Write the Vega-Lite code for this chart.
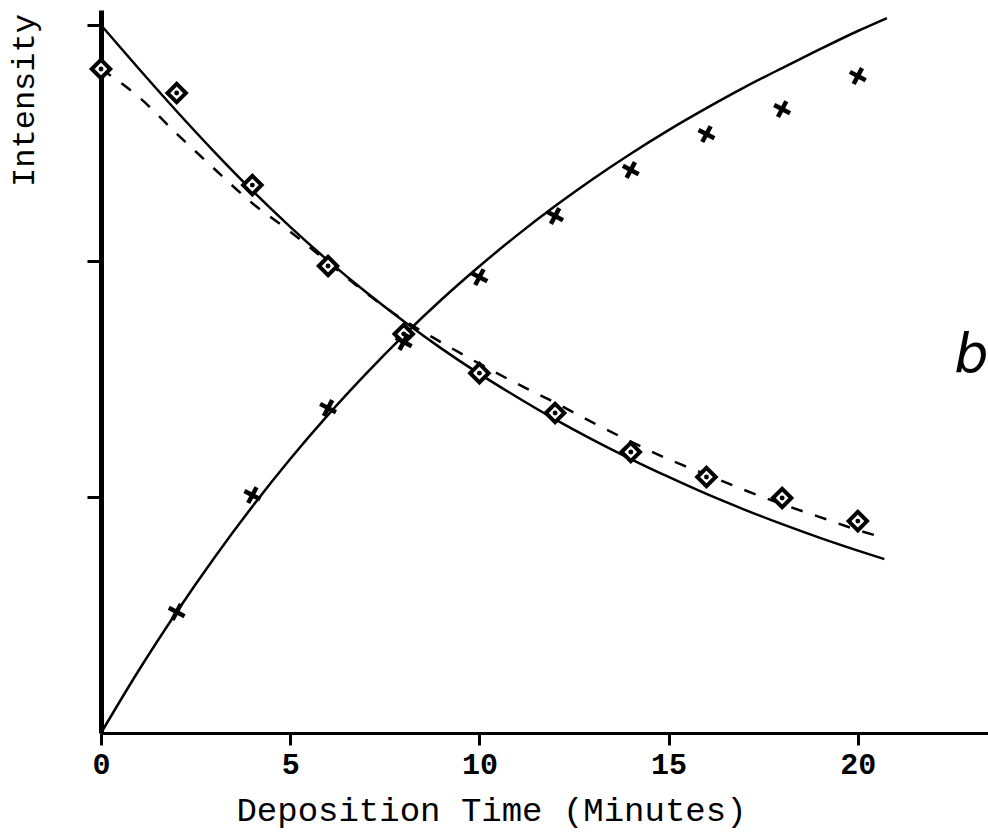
{
  "$schema": "https://vega.github.io/schema/vega-lite/v6.json",
  "width": 887,
  "height": 723,
  "autosize": {"type": "none"},
  "padding": {"left": 101, "top": 10, "right": 0, "bottom": 99},
  "background": "white",
  "config": {"view": {"stroke": null}},
  "datasets": {
    "decay": [
      {"t": 0, "v": 3.0}, {"t": 1, "v": 2.815}, {"t": 2, "v": 2.635}, {"t": 3, "v": 2.462},
      {"t": 4, "v": 2.298}, {"t": 5, "v": 2.145}, {"t": 6, "v": 2.002}, {"t": 7, "v": 1.869},
      {"t": 8, "v": 1.745}, {"t": 9, "v": 1.629}, {"t": 10, "v": 1.522}, {"t": 11, "v": 1.423},
      {"t": 12, "v": 1.329}, {"t": 13, "v": 1.242}, {"t": 14, "v": 1.161}, {"t": 15, "v": 1.085},
      {"t": 16, "v": 1.013}, {"t": 17, "v": 0.947}, {"t": 18, "v": 0.885}, {"t": 19, "v": 0.827},
      {"t": 20, "v": 0.773}, {"t": 20.7, "v": 0.737}
    ],
    "fit": [
      {"t": 0, "v": 2.814}, {"t": 1, "v": 2.695}, {"t": 2, "v": 2.54}, {"t": 3, "v": 2.39},
      {"t": 4, "v": 2.245}, {"t": 5, "v": 2.125}, {"t": 6, "v": 1.995}, {"t": 7, "v": 1.865},
      {"t": 8, "v": 1.75}, {"t": 9, "v": 1.655}, {"t": 10, "v": 1.565}, {"t": 11, "v": 1.48},
      {"t": 12, "v": 1.4}, {"t": 13, "v": 1.315}, {"t": 14, "v": 1.235}, {"t": 15, "v": 1.16},
      {"t": 16, "v": 1.095}, {"t": 17, "v": 1.03}, {"t": 18, "v": 0.97}, {"t": 19, "v": 0.915},
      {"t": 20, "v": 0.86}, {"t": 20.75, "v": 0.825}
    ],
    "growth": [
      {"t": 0, "v": 0}, {"t": 1, "v": 0.266}, {"t": 2, "v": 0.513}, {"t": 3, "v": 0.744},
      {"t": 4, "v": 0.96}, {"t": 5, "v": 1.161}, {"t": 6, "v": 1.348}, {"t": 7, "v": 1.522},
      {"t": 8, "v": 1.685}, {"t": 9, "v": 1.837}, {"t": 10, "v": 1.978}, {"t": 11, "v": 2.11},
      {"t": 12, "v": 2.233}, {"t": 13, "v": 2.348}, {"t": 14, "v": 2.455}, {"t": 15, "v": 2.555},
      {"t": 16, "v": 2.648}, {"t": 17, "v": 2.736}, {"t": 18, "v": 2.818}, {"t": 19, "v": 2.898},
      {"t": 20, "v": 2.975}, {"t": 20.77, "v": 3.03}
    ],
    "diamonds": [
      {"t": 0, "v": 2.814}, {"t": 2, "v": 2.712}, {"t": 4, "v": 2.322}, {"t": 6, "v": 1.979},
      {"t": 8, "v": 1.691}, {"t": 10, "v": 1.525}, {"t": 12, "v": 1.356}, {"t": 14, "v": 1.191},
      {"t": 16, "v": 1.085}, {"t": 18, "v": 0.996}, {"t": 20, "v": 0.898}
    ],
    "crosses": [
      {"t": 2, "v": 0.513}, {"t": 4, "v": 1.008}, {"t": 6, "v": 1.377}, {"t": 8, "v": 1.657},
      {"t": 10, "v": 1.932}, {"t": 12, "v": 2.191}, {"t": 14, "v": 2.386}, {"t": 16, "v": 2.538},
      {"t": 18, "v": 2.644}, {"t": 20, "v": 2.784}
    ],
    "panel": [{"label": "b"}]
  },
  "layer": [
    {
      "data": {"name": "decay"},
      "mark": {"type": "line", "color": "black", "strokeWidth": 2.5, "interpolate": "monotone"},
      "encoding": {
        "x": {
          "field": "t", "type": "quantitative",
          "scale": {"domain": [0, 23.44], "nice": false, "zero": false},
          "axis": {
            "values": [0, 5, 10, 15, 20],
            "grid": false,
            "domainColor": "black", "domainWidth": 3,
            "tickColor": "black", "tickWidth": 3, "tickSize": 12,
            "labelFont": "Liberation Mono", "labelFontSize": 30, "labelFontWeight": "bold",
            "labelColor": "black", "labelPadding": 4, "labelFlush": false,
            "title": "Deposition Time (Minutes)",
            "titleFont": "Liberation Mono", "titleFontSize": 34, "titleFontWeight": "normal",
            "titleColor": "black",
            "titleX": 390, "titleY": 87, "titleAlign": "center", "titleBaseline": "alphabetic"
          }
        },
        "y": {
          "field": "v", "type": "quantitative",
          "scale": {"domain": [0, 3.064], "nice": false},
          "axis": {
            "values": [1, 2, 3],
            "grid": false,
            "labels": false,
            "domainColor": "black", "domainWidth": 5,
            "tickColor": "black", "tickWidth": 3, "tickSize": 14,
            "title": "Intensity",
            "titleFont": "Liberation Mono", "titleFontSize": 32, "titleFontWeight": "normal",
            "titleColor": "black",
            "titleAngle": 270,
            "titleX": -68, "titleY": 90, "titleAlign": "center", "titleBaseline": "alphabetic"
          }
        }
      }
    },
    {
      "data": {"name": "fit"},
      "mark": {"type": "line", "color": "black", "strokeWidth": 2.5, "strokeDash": [12, 13], "interpolate": "monotone"},
      "encoding": {
        "x": {"field": "t", "type": "quantitative"},
        "y": {"field": "v", "type": "quantitative"}
      }
    },
    {
      "data": {"name": "growth"},
      "mark": {"type": "line", "color": "black", "strokeWidth": 2.5, "interpolate": "monotone"},
      "encoding": {
        "x": {"field": "t", "type": "quantitative"},
        "y": {"field": "v", "type": "quantitative"}
      }
    },
    {
      "data": {"name": "diamonds"},
      "mark": {"type": "point", "shape": "diamond", "size": 340, "filled": false, "fill": "white", "fillOpacity": 1, "stroke": "black", "strokeWidth": 4, "opacity": 1},
      "encoding": {
        "x": {"field": "t", "type": "quantitative"},
        "y": {"field": "v", "type": "quantitative"}
      }
    },
    {
      "data": {"name": "diamonds"},
      "mark": {"type": "point", "shape": "circle", "size": 24, "filled": true, "color": "black", "opacity": 1},
      "encoding": {
        "x": {"field": "t", "type": "quantitative"},
        "y": {"field": "v", "type": "quantitative"}
      }
    },
    {
      "data": {"name": "crosses"},
      "mark": {"type": "point", "shape": "M -1 0 L 1 0 M 0 -1 L 0 1", "size": 320, "filled": false, "stroke": "black", "strokeWidth": 4.5, "angle": 28, "opacity": 1},
      "encoding": {
        "x": {"field": "t", "type": "quantitative"},
        "y": {"field": "v", "type": "quantitative"}
      }
    },
    {
      "data": {"name": "panel"},
      "mark": {"type": "text", "font": "DejaVu Sans", "fontStyle": "italic", "fontSize": 54, "align": "left", "baseline": "alphabetic", "color": "black"},
      "encoding": {
        "text": {"field": "label"},
        "x": {"datum": 22.55},
        "y": {"datum": 1.53}
      }
    }
  ]
}
